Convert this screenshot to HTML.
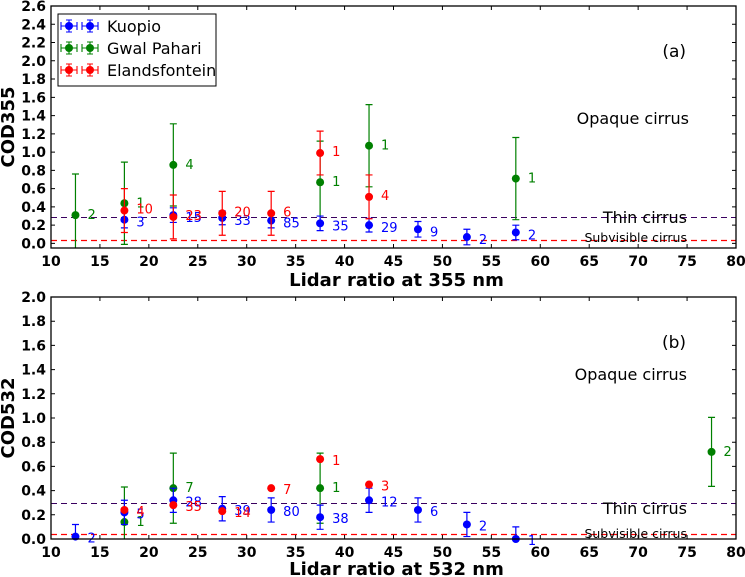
<!DOCTYPE html>
<html><head><meta charset="utf-8"><style>
html,body{margin:0;padding:0;background:#fff;}
svg{display:block;font-family:"DejaVu Sans","Liberation Sans",sans-serif;}
.tk{font-weight:bold;font-size:14px;}
</style></head><body>
<svg id="chart" width="745" height="577" viewBox="0 0 745 577"></svg>
<script>
// ---- Data ----
const xTicks = [10,15,20,25,30,35,40,45,50,55,60,65,70,75,80];
const yTicksA = [0,0.2,0.4,0.6,0.8,1.0,1.2,1.4,1.6,1.8,2.0,2.2,2.4,2.6];
const yTicksB = [0,0.2,0.4,0.6,0.8,1.0,1.2,1.4,1.6,1.8,2.0];
// Panel (a) 355 nm
const kuoA_x = [17.5,22.5,27.5,32.5,37.5,42.5,47.5,52.5,57.5];
const kuoA_y = [0.26,0.31,0.28,0.25,0.22,0.20,0.155,0.07,0.12];
const kuoA_e = [0.09,0.08,0.075,0.08,0.08,0.075,0.085,0.085,0.08];
const kuoA_n = ["3","15","33","85","35","29","9","2","2"];
const gwaA_x = [12.5,17.5,22.5,37.5,42.5,57.5];
const gwaA_y = [0.31,0.44,0.86,0.67,1.07,0.71];
const gwaA_e = [0.45,0.45,0.45,0.45,0.45,0.45];
const gwaA_n = ["2","1","4","1","1","1"];
const elaA_x = [17.5,22.5,27.5,32.5,37.5,42.5];
const elaA_y = [0.36,0.29,0.33,0.33,0.99,0.51];
const elaA_e = [0.24,0.24,0.24,0.24,0.24,0.24];
const elaA_n = ["10","23","20","6","1","4"];
// Panel (b) 532 nm
const kuoB_x = [12.5,17.5,22.5,27.5,32.5,37.5,42.5,47.5,52.5,57.5];
const kuoB_y = [0.02,0.22,0.32,0.25,0.24,0.18,0.32,0.24,0.12,0.0];
const kuoB_e = [0.10,0.10,0.10,0.10,0.10,0.10,0.10,0.10,0.10,0.10];
const kuoB_n = ["2","5","28","39","80","38","12","6","2","1"];
const gwaB_x = [17.5,22.5,37.5,77.5];
const gwaB_y = [0.14,0.42,0.42,0.72];
const gwaB_e = [0.29,0.29,0.29,0.285];
const gwaB_n = ["1","7","1","2"];
const elaB_x = [17.5,22.5,27.5,32.5,37.5,42.5];
const elaB_y = [0.24,0.28,0.23,0.42,0.66,0.45];
const elaB_e = [0,0,0,0,0,0];
const elaB_n = ["4","35","14","7","1","3"];

const NS="http://www.w3.org/2000/svg";
const svg=document.getElementById('chart');
function mk(tag,attrs,parent,text){const e=document.createElementNS(NS,tag);for(const k in attrs)e.setAttribute(k,attrs[k]);if(text!==undefined)e.textContent=text;(parent||svg).appendChild(e);return e;}

const L=51,R=736;
function sx(v){return L+(v-10)*(R-L)/70;}

function panel(id,top,bot,ymin,ymax,yTicks,thin,xlabel,xlabY,ylabel,series,txt){
  const sy=v=>bot-(v-ymin)*(bot-top)/(ymax-ymin);
  const g=mk('g',{});
  
  
  const l1=mk('line',{x1:L,x2:R,y1:Math.round(sy(thin))+0.5,y2:Math.round(sy(thin))+0.5,stroke:'#3a0060','stroke-dasharray':'6,4','stroke-width':1},g);
  
  
  const l2=mk('line',{x1:L,x2:R,y1:Math.round(sy(0.04))+0.5,y2:Math.round(sy(0.04))+0.5,stroke:'#ff0000','stroke-dasharray':'6,4','stroke-width':1.3},g);
  
  
  series.forEach(s=>{
    const sg=mk('g',{},g);
    
    
    for(let i=0;i<s.x.length;i++){
      const cx=sx(s.x[i]),cy=sy(s.y[i]);
      if(s.e[i]>0){
        const y1=sy(s.y[i]-s.e[i]),y2=sy(s.y[i]+s.e[i]);
        const eb=mk('path',{d:`M${cx},${Math.min(y1,bot)}V${y2}M${cx-3.5},${y2}H${cx+3.5}`+(y1<=bot?`M${cx-3.5},${y1}H${cx+3.5}`:''),stroke:s.c,'stroke-width':1.2,fill:'none'},sg);
        
        
      }
      const p=mk('circle',{cx:cx,cy:Math.min(cy,bot),r:4,fill:s.c},sg);
      
      
      const t=mk('text',{x:cx+12,y:cy+s.dy,fill:s.c,'font-size':13},sg,s.n[i]);
      
      
    }
  });
  const fr=mk('rect',{x:L,y:top,width:R-L,height:bot-top,fill:'none',stroke:'#000','stroke-width':1.3},g);
  
  
  xTicks.forEach(v=>{
    const x=sx(v);
    mk('path',{d:`M${x},${bot}v-4M${x},${top}v4`,stroke:'#000'},g);
    const t=mk('text',{x:x,y:bot+18,'text-anchor':'middle',class:'tk'},g,String(v));
    
    
  });
  yTicks.forEach(v=>{
    const y=sy(v);
    mk('path',{d:`M${L},${y}h4M${R},${y}h-4`,stroke:'#000'},g);
    const t=mk('text',{x:L-5,y:y+5,'text-anchor':'end',class:'tk'},g,v.toFixed(1));
    
    
  });
  const xl=mk('text',{x:(L+R)/2+3,y:xlabY,'text-anchor':'middle','font-weight':'bold','font-size':18},g,xlabel);
  
  
  const yc=(top+bot)/2;
  const yl=mk('text',{x:0,y:0,transform:`translate(14,${yc}) rotate(-90)`,'text-anchor':'middle','font-weight':'bold','font-size':18},g,ylabel);
  
  
  txt.forEach(t=>{
    const e=mk('text',{x:t.x,y:t.y,'text-anchor':'end','font-size':t.s,fill:'#000'},g,t.t);
    
    
  });
}

panel('a',6,248,-0.05,2.6,yTicksA,0.29,'Lidar ratio at 355 nm',286,'COD355',[
  {name:'gwal-pahari',x:gwaA_x,y:gwaA_y,e:gwaA_e,n:gwaA_n,c:'green',dy:4},
  {name:'kuopio',x:kuoA_x,y:kuoA_y,e:kuoA_e,n:kuoA_n,c:'blue',dy:7},
  {name:'elandsfontein',x:elaA_x,y:elaA_y,e:elaA_e,n:elaA_n,c:'red',dy:3}
],[
  {x:686,y:57,s:17,t:'(a)',n:'panel-label-a'},
  {x:689,y:124,s:16,t:'Opaque cirrus',n:'opaque-cirrus-label-a'},
  {x:687,y:223,s:16,t:'Thin cirrus',n:'thin-cirrus-label-a'},
  {x:687,y:242,s:12.5,t:'Subvisible cirrus',n:'subvisible-cirrus-label-a'}
]);
panel('b',297,539,0,2.0,yTicksB,0.3,'Lidar ratio at 532 nm',575,'COD532',[
  {name:'gwal-pahari',x:gwaB_x,y:gwaB_y,e:gwaB_e,n:gwaB_n,c:'green',dy:4},
  {name:'kuopio',x:kuoB_x,y:kuoB_y,e:kuoB_e,n:kuoB_n,c:'blue',dy:6},
  {name:'elandsfontein',x:elaB_x,y:elaB_y,e:elaB_e,n:elaB_n,c:'red',dy:6}
],[
  {x:686,y:348,s:17,t:'(b)',n:'panel-label-b'},
  {x:687,y:380,s:16,t:'Opaque cirrus',n:'opaque-cirrus-label-b'},
  {x:687,y:514,s:16,t:'Thin cirrus',n:'thin-cirrus-label-b'},
  {x:687,y:538,s:12.5,t:'Subvisible cirrus',n:'subvisible-cirrus-label-b'}
]);

const lg=mk('g',{});


mk('rect',{x:58,y:14,width:158,height:72,fill:'#fff',stroke:'#000','stroke-width':1},lg);
[['Kuopio','blue',26],['Gwal Pahari','green',48],['Elandsfontein','red',70]].forEach(([n,c,y])=>{
  const eg=mk('g',{},lg);
  
  
  [69,90].forEach(x=>{
    mk('path',{d:`M${x-8},${y}h16M${x-8},${y-4}v8M${x+8},${y-4}v8M${x},${y-6}v12M${x-3},${y-6}h6M${x-3},${y+6}h6`,stroke:c,'stroke-width':1.1,fill:'none'},eg);
    mk('circle',{cx:x,cy:y,r:4,fill:c},eg);
  });
  mk('text',{x:107,y:y+6,'font-size':16},eg,n);
});
</script>
</body></html>
